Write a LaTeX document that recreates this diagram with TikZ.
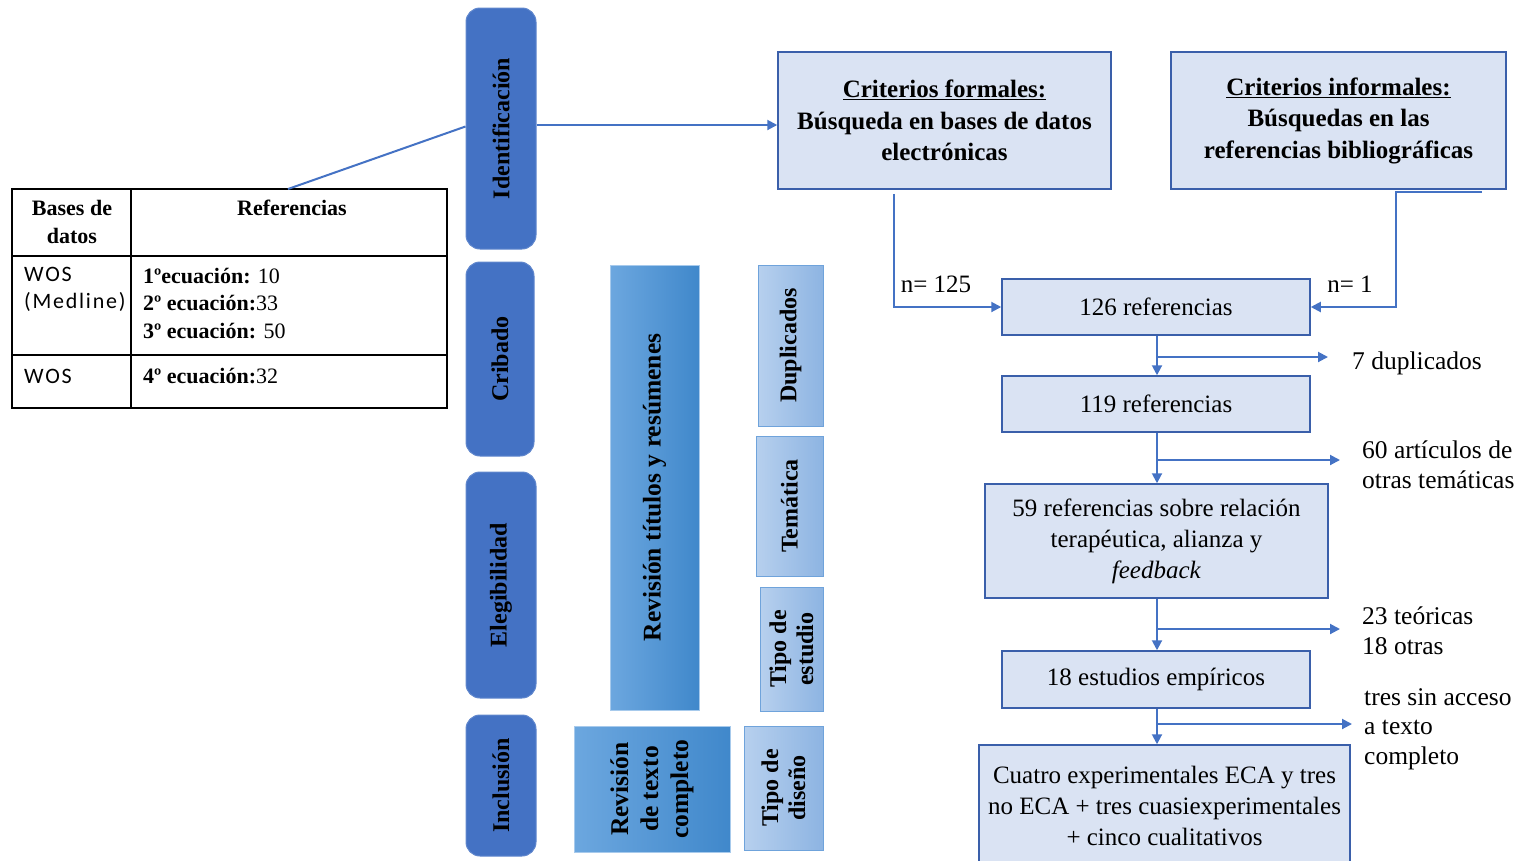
\documentclass[tikz,border=0pt]{standalone}
\usepackage{fontspec}
\setmainfont{Liberation Serif}
\newfontfamily\calib[LetterSpace=8]{Carlito}
\usetikzlibrary{arrows.meta}
\definecolor{stage}{HTML}{4472C4}
\definecolor{arrowc}{HTML}{4472C4}
\definecolor{boxfill}{HTML}{DAE3F3}
\definecolor{boxdraw}{HTML}{3A5FAA}
\definecolor{gradA}{HTML}{6CA7DF}
\definecolor{gradB}{HTML}{4088CB}
\definecolor{smallA}{HTML}{B7D0EE}
\definecolor{smallB}{HTML}{8DB4E2}
\definecolor{smallD}{HTML}{6FA3DB}
\begin{document}
\begin{tikzpicture}[x=1pt,y=-1pt,
  font=\fontsize{25}{31}\selectfont,
  stagebox/.style={rotate=90, fill=stage, draw=stage!85!white, line width=1pt, rounded corners=14pt,
    font=\fontsize{24}{28}\selectfont\bfseries, inner sep=0pt},
  bigrev/.style={rotate=90, left color=gradA, right color=gradB, draw=gradA!60!white, line width=1pt,
    font=\fontsize{25.5}{30}\selectfont\bfseries, inner sep=0pt, align=center},
  smallrev/.style={rotate=90, left color=smallA, right color=smallB, draw=smallD, line width=1pt,
    font=\fontsize{24}{27}\selectfont\bfseries, inner sep=0pt, align=center},
  flowbox/.style={fill=boxfill, draw=boxdraw, line width=1.5pt, inner sep=0pt, align=center},
  arr/.style={draw=arrowc, line width=2pt, -{Triangle[length=10pt,width=10pt]}},
  plainline/.style={draw=arrowc, line width=2pt},
  lbl/.style={inner sep=0pt, align=left, anchor=west, font=\fontsize{25.5}{29.5}\selectfont},
  tabtxt/.style={inner sep=0pt, font=\fontsize{22}{27.5}\selectfont},
]
\useasboundingbox (0,0) rectangle (1523,860);

% stage boxes
\node[stagebox, minimum width=241pt, minimum height=70pt] (ident) at (501,128.5) {Identificación};
\node[stagebox, minimum width=194pt, minimum height=68pt] (crib) at (500,359) {Cribado};
\node[stagebox, minimum width=226pt, minimum height=70pt] (eleg) at (501,585) {Elegibilidad};
\node[stagebox, minimum width=141pt, minimum height=70pt] (incl) at (501,785.5) {Inclusión};

% review boxes
\node[bigrev, minimum width=445pt, minimum height=89pt] (rev1) at (654.5,487.5) {Revisión títulos y resúmenes};
\node[bigrev, minimum width=126pt, minimum height=156pt] (rev2) at (652,789) {Revisión\\de texto\\completo};
\node[smallrev, minimum width=161pt, minimum height=65pt] (dup) at (790.5,345.5) {Duplicados};
\node[smallrev, minimum width=140pt, minimum height=67pt] (tem) at (789.5,506) {Temática};
\node[smallrev, minimum width=124pt, minimum height=63pt] (test) at (791.5,649) {Tipo de\\estudio};
\node[smallrev, minimum width=124pt, minimum height=79pt] (tdis) at (783.5,788) {Tipo de\\diseño};

% top criteria boxes
\node[flowbox, minimum width=333pt, minimum height=137pt, font=\fontsize{25}{31.5}\selectfont\bfseries] (formal) at (944.5,120.5)
  {\underline{Criterios formales:}\\Búsqueda en bases de datos\\electrónicas};
\node[flowbox, minimum width=335pt, minimum height=137pt, font=\fontsize{25}{31.5}\selectfont\bfseries] (informal) at (1338.5,120.5)
  {\underline{Criterios informales:}\\Búsquedas en las\\referencias bibliográficas};

% flow boxes
\node[flowbox, minimum width=308pt, minimum height=56pt] (r126) at (1156,307) {126 referencias};
\node[flowbox, minimum width=308pt, minimum height=56pt] (r119) at (1156,404) {119 referencias};
\node[flowbox, minimum width=343pt, minimum height=114pt] (r59) at (1156.5,541)
  {59 referencias sobre relación\\terapéutica, alianza y\\\textit{feedback}};
\node[flowbox, minimum width=308pt, minimum height=57pt] (r18) at (1156,679.5) {18 estudios empíricos};
\node[flowbox, minimum width=371pt, minimum height=122pt] (final) at (1164.5,806)
  {Cuatro experimentales ECA y tres\\no ECA + tres cuasiexperimentales\\+ cinco cualitativos};

% labels
\node[inner sep=0pt] (n125) at (936,284) {n= 125};
\node[inner sep=0pt] (n1) at (1350,284) {n= 1};
\node[lbl] (l7) at (1352,363) {7 duplicados};
\node[lbl] (l60) at (1362,464.5) {60 artículos de\\otras temáticas};
\node[lbl] (l23) at (1362,630.5) {23 teóricas\\18 otras};
\node[lbl] (l3) at (1364,729) {tres sin acceso\\a texto\\completo};

% table
\draw[line width=1.5pt] (12,189) rectangle (447,408);
\draw[line width=1.5pt] (131,189) -- (131,408);
\draw[line width=1.5pt] (12,256) -- (447,256);
\draw[line width=1.5pt] (12,355) -- (447,355);
\coordinate (tabtop) at (288,189);
\node[tabtxt, align=center, font=\fontsize{22}{28}\selectfont\bfseries] (th1) at (72,222) {Bases de\\datos};
\node[tabtxt, font=\fontsize{22}{28}\selectfont\bfseries] (th2) at (292,208) {Referencias};
\node[tabtxt, anchor=west, align=left] (c11) at (24,289.5) {\calib WOS\\\calib (Medline)};
\node[tabtxt, anchor=west, align=left] (c12) at (143,303.5)
  {\textbf{1ºecuación:} 10\\\textbf{2º ecuación:}33\\\textbf{3º ecuación:} 50};
\node[tabtxt, anchor=west] (c21) at (24,376) {\calib WOS};
\node[tabtxt, anchor=west] (c22) at (143,376) {\textbf{4º ecuación:}32};

% connectors
\draw[plainline] ([yshift=2pt]ident.north) -- (tabtop);
\draw[arr] ([yshift=3.5pt]ident.south) -- ([yshift=3.5pt]ident.south -| formal.west);
\draw[arr] ([xshift=-50.5pt,yshift=-4pt]formal.south) |- (r126.west);
\draw[arr] ([xshift=143.5pt,yshift=-2pt]informal.south) -- ([xshift=57.5pt,yshift=-2pt]informal.south) |- (r126.east);

\draw[arr] ([xshift=1pt]r126.south) -- ([xshift=1pt]r119.north);
\draw[arr] ([xshift=1pt]r119.south) -- ([xshift=0.5pt]r59.north);
\draw[arr] ([xshift=0.5pt]r59.south) -- ([xshift=1pt]r18.north);
\draw[arr] ([xshift=1pt]r18.south) -- ([xshift=-7.5pt]final.north);

\coordinate (b1) at (1157,357);
\coordinate (e1) at (1328,357);
\coordinate (b2) at (1157,460);
\coordinate (e2) at (1340,460);
\coordinate (b3) at (1157,629);
\coordinate (e3) at (1340,629);
\coordinate (b4) at (1157,724);
\coordinate (e4) at (1352,724);
\draw[arr] (b1) -- (e1);
\draw[arr] (b2) -- (e2);
\draw[arr] (b3) -- (e3);
\draw[arr] (b4) -- (e4);
\end{tikzpicture}
\end{document}
